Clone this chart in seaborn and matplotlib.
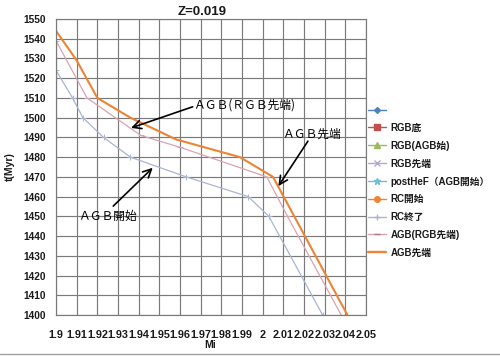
import matplotlib
matplotlib.use("Agg")
import matplotlib.pyplot as plt
import seaborn as sns
from matplotlib.lines import Line2D

# ---- data ----
title = "Z=0.019"
x_ticks = [1.90, 1.91, 1.92, 1.93, 1.94, 1.95, 1.96, 1.97, 1.98, 1.99,
           2.00, 2.01, 2.02, 2.03, 2.04, 2.05]
x_tick_labels = ["1.9", "1.91", "1.92", "1.93", "1.94", "1.95", "1.96", "1.97",
                 "1.98", "1.99", "2", "2.01", "2.02", "2.03", "2.04", "2.05"]
y_ticks = [1400, 1410, 1420, 1430, 1440, 1450, 1460, 1470, 1480, 1490,
           1500, 1510, 1520, 1530, 1540, 1550]

legend_labels = ["", "RGB底", "RGB(AGB始)", "RGB先端", "postHeF（AGB開始）",
                 "RC開始", "RC終了", "AGB(RGB先端)", "AGB先端"]

rc_end_x = [1.900, 1.908, 1.913, 1.923, 1.936, 1.963, 1.993, 2.003, 2.029]
rc_end_y = [1524, 1510, 1500, 1490, 1480, 1470, 1460, 1450, 1400]

agb_rgb_x = [1.900, 1.915, 1.941, 1.960, 2.002, 2.012, 2.038]
agb_rgb_y = [1539, 1510, 1491, 1485, 1470, 1450, 1400]

agb_tip_x = [1.900, 1.910, 1.920, 1.936, 1.958, 1.989, 2.005, 2.041]
agb_tip_y = [1544, 1529, 1510, 1500, 1489, 1480, 1470, 1400]

# ---- style ----
sns.set_theme(style="white")
plt.rcParams["font.family"] = ["Liberation Sans", "Noto Sans CJK JP", "DejaVu Sans"]

c_grid = "#7a7a7a"
c_orange = "#EE8433"
c_pink = "#D9A3B3"
c_gray = "#A9B5D2"
c_text = "#1a1a1a"

fig = plt.figure(figsize=(5, 3.57), dpi=100)
ax = fig.add_axes([56 / 500, 1 - 315 / 357, 310 / 500, 296 / 357])

sns.lineplot(x=rc_end_x, y=rc_end_y, ax=ax, color=c_gray, linewidth=0.9,
             marker="+", markersize=4, markeredgewidth=0.7,
             markeredgecolor=c_gray, sort=False, estimator=None)
sns.lineplot(x=agb_rgb_x, y=agb_rgb_y, ax=ax, color=c_pink, linewidth=0.9,
             marker="_", markersize=4, markeredgewidth=0.8,
             markeredgecolor=c_pink, sort=False, estimator=None)
sns.lineplot(x=agb_tip_x, y=agb_tip_y, ax=ax, color=c_orange, linewidth=1.5,
             sort=False, estimator=None)

ax.set_xlim(1.90, 2.05)
ax.set_ylim(1400, 1550)
ax.set_xticks(x_ticks)
ax.set_xticklabels(x_tick_labels)
ax.set_yticks(y_ticks)
ax.grid(True, color=c_grid, linewidth=0.85)
for s in ax.spines.values():
    s.set_color(c_grid)
    s.set_linewidth(0.85)
ax.tick_params(axis="both", length=0, colors=c_text)
ax.tick_params(axis="x", pad=11, labelsize=7.8)
ax.tick_params(axis="y", pad=7, labelsize=7.3)
for t in ax.get_xticklabels() + ax.get_yticklabels():
    t.set_fontweight("bold")
ax.set_xlabel("")
ax.set_ylabel("")

# ---- annotations ----
jp = ["Noto Sans CJK JP", "DejaVu Sans"]
arrow = dict(arrowstyle="->,head_length=0.5,head_width=0.25", color="black",
             lw=1.2, shrinkA=0, shrinkB=0)
ax.annotate("", xy=(1.9363, 1494.8), xytext=(1.9661, 1505.5), arrowprops=arrow)
ax.text(1.9665, 1506.6, "ＡＧＢ(ＲＧＢ先端)", ha="left", va="center",
        fontsize=8.5, family=jp, color="black")
ax.annotate("", xy=(1.9468, 1474.6), xytext=(1.9277, 1455.2), arrowprops=arrow)
ax.text(1.9247, 1450.0, "ＡＧＢ開始", ha="center", va="center",
        fontsize=8.5, family=jp, color="black")
ax.annotate("", xy=(2.0076, 1465.3), xytext=(2.0219, 1488.1), arrowprops=arrow)
ax.text(2.0234, 1491.8, "ＡＧＢ先端", ha="center", va="center",
        fontsize=8.5, family=jp, color="black")

# ---- labels & title ----
fig.text(202 / 500, 1 - 12 / 357, title, ha="center", va="center",
         fontsize=9.5, fontweight="bold", color=c_text)
fig.text(10 / 500, 1 - 167 / 357, "t(Myr)", rotation=90, ha="center",
         va="center", fontsize=7.5, fontweight="bold", color=c_text)
fig.text(210 / 500, 1 - 345 / 357, "Mi", ha="center", va="center",
         fontsize=7.5, fontweight="bold", color=c_text)

# ---- legend ----
handles = [
    Line2D([], [], color="#4F81BD", lw=1, marker="D", markersize=3),
    Line2D([], [], color="#C0504D", lw=1, marker="s", markersize=4),
    Line2D([], [], color="#9BBB59", lw=1, marker="^", markersize=4),
    Line2D([], [], color="#B3A8D0", lw=1, marker="x", markersize=4),
    Line2D([], [], color="#6FBFD3", lw=1, marker="*", markersize=5),
    Line2D([], [], color=c_orange, lw=1, marker="o", markersize=4),
    Line2D([], [], color=c_gray, lw=1, marker="+", markersize=5),
    Line2D([], [], color=c_pink, lw=1, marker="_", markersize=5,
           markeredgecolor="#B07888"),
    Line2D([], [], color=c_orange, lw=1.7),
]
leg = ax.legend(handles, legend_labels, loc="upper left",
                bbox_to_anchor=(368 / 500, 1 - 105 / 357),
                bbox_transform=fig.transFigure, frameon=False,
                prop={"size": 7, "weight": "bold"}, handlelength=1.9,
                handletextpad=0.4, labelspacing=0.8, borderpad=0,
                borderaxespad=0)
for t in leg.get_texts():
    t.set_color(c_text)

fig.add_artist(Line2D([0, 1], [1 - 354 / 357] * 2, transform=fig.transFigure,
                      color="#a0a0a0", lw=1))

fig.savefig("out.png", dpi=100)
